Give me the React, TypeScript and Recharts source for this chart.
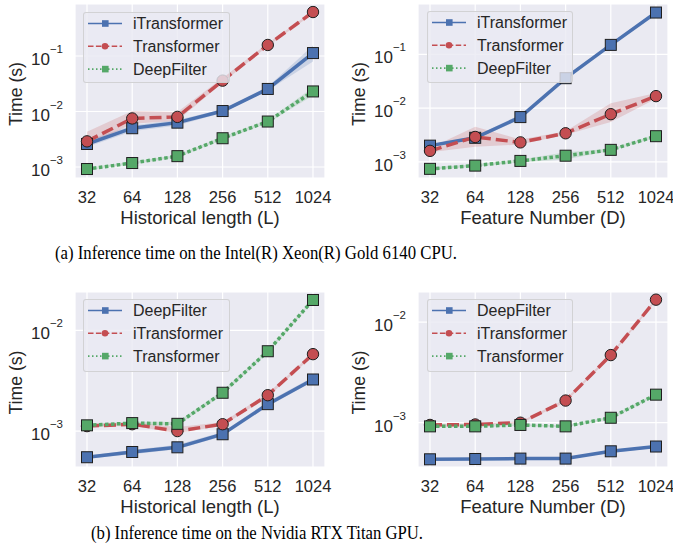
import React from 'react';
import { ComposedChart, Line, Area, XAxis, YAxis, CartesianGrid, Legend } from 'recharts';

// ---------- data ----------
const lengths = [32, 64, 128, 256, 512, 1024];
const xTicks = [32, 64, 128, 256, 512, 1024];
const yTicksTop = [1e-3, 1e-2, 1e-1];
const yTicksBottom = [1e-3, 1e-2];

// (a) CPU — historical length
const cpuLenITransformer = [2.6e-3, 5.0e-3, 6.3e-3, 0.0102, 0.0255, 0.113];
const cpuLenITransformerLo = [2.3e-3, 4.4e-3, 5.6e-3, 0.0095, 0.024, 0.08];
const cpuLenITransformerHi = [3.0e-3, 5.6e-3, 7.0e-3, 0.011, 0.028, 0.155];
const cpuLenTransformer = [2.9e-3, 7.5e-3, 8.0e-3, 0.036, 0.158, 0.62];
const cpuLenTransformerLo = [2.4e-3, 6.0e-3, 6.8e-3, 0.033, 0.15, 0.58];
const cpuLenTransformerHi = [4.3e-3, 0.0102, 0.0098, 0.04, 0.17, 0.65];
const cpuLenDeepFilter = [9.2e-4, 1.18e-3, 1.57e-3, 3.3e-3, 6.6e-3, 0.023];
const cpuLenDeepFilterLo = [8.8e-4, 1.12e-3, 1.5e-3, 3.1e-3, 6.2e-3, 0.0195];
const cpuLenDeepFilterHi = [9.7e-4, 1.25e-3, 1.65e-3, 3.5e-3, 7.0e-3, 0.027];

// (a) CPU — feature number
const cpuFeatITransformer = [2.0e-3, 2.8e-3, 6.8e-3, 0.036, 0.15, 0.6];
const cpuFeatITransformerLo = [1.9e-3, 2.6e-3, 6.2e-3, 0.034, 0.145, 0.58];
const cpuFeatITransformerHi = [2.1e-3, 3.0e-3, 7.6e-3, 0.039, 0.16, 0.63];
const cpuFeatTransformer = [1.6e-3, 2.9e-3, 2.3e-3, 3.4e-3, 7.7e-3, 0.0167];
const cpuFeatTransformerLo = [1.5e-3, 1.9e-3, 2.1e-3, 3.2e-3, 5.5e-3, 0.015];
const cpuFeatTransformerHi = [1.8e-3, 4.5e-3, 2.6e-3, 3.7e-3, 0.0123, 0.019];
const cpuFeatDeepFilter = [7.4e-4, 8.5e-4, 1.04e-3, 1.3e-3, 1.67e-3, 3.0e-3];
const cpuFeatDeepFilterLo = [7.1e-4, 8.1e-4, 9.8e-4, 1.1e-3, 1.6e-3, 2.85e-3];
const cpuFeatDeepFilterHi = [7.8e-4, 9.0e-4, 1.1e-3, 1.5e-3, 1.75e-3, 3.2e-3];

// (b) GPU — historical length
const gpuLenDeepFilter = [5.5e-4, 6.2e-4, 6.9e-4, 9.3e-4, 1.85e-3, 3.25e-3];
const gpuLenDeepFilterLo = [5.3e-4, 5.9e-4, 6.6e-4, 8.9e-4, 1.75e-3, 3.1e-3];
const gpuLenDeepFilterHi = [5.7e-4, 6.5e-4, 7.3e-4, 9.8e-4, 1.95e-3, 3.45e-3];
const gpuLenITransformer = [1.12e-3, 1.17e-3, 1.0e-3, 1.17e-3, 2.27e-3, 5.8e-3];
const gpuLenITransformerLo = [1.09e-3, 1.13e-3, 0.95e-3, 1.13e-3, 2.18e-3, 5.6e-3];
const gpuLenITransformerHi = [1.16e-3, 1.22e-3, 1.1e-3, 1.22e-3, 2.38e-3, 6.0e-3];
const gpuLenTransformer = [1.14e-3, 1.2e-3, 1.18e-3, 2.4e-3, 6.2e-3, 0.02];
const gpuLenTransformerLo = [1.1e-3, 1.16e-3, 1.14e-3, 2.3e-3, 6.0e-3, 0.0195];
const gpuLenTransformerHi = [1.18e-3, 1.24e-3, 1.24e-3, 2.5e-3, 6.4e-3, 0.0205];

// (b) GPU — feature number
const gpuFeatDeepFilter = [4.33e-4, 4.36e-4, 4.4e-4, 4.4e-4, 5.2e-4, 5.8e-4];
const gpuFeatDeepFilterLo = [4.25e-4, 4.3e-4, 4.35e-4, 4.35e-4, 5.0e-4, 5.65e-4];
const gpuFeatDeepFilterHi = [4.4e-4, 4.45e-4, 4.5e-4, 4.5e-4, 5.3e-4, 5.95e-4];
const gpuFeatITransformer = [9.5e-4, 9.6e-4, 1.0e-3, 1.66e-3, 4.7e-3, 0.0167];
const gpuFeatITransformerLo = [9.3e-4, 9.4e-4, 9.8e-4, 1.6e-3, 4.55e-3, 0.0162];
const gpuFeatITransformerHi = [9.7e-4, 9.8e-4, 1.03e-3, 1.72e-3, 4.85e-3, 0.0172];
const gpuFeatTransformer = [9.2e-4, 9.2e-4, 9.5e-4, 9.2e-4, 1.12e-3, 1.9e-3];
const gpuFeatTransformerLo = [9.0e-4, 9.0e-4, 9.3e-4, 9.0e-4, 1.09e-3, 1.85e-3];
const gpuFeatTransformerHi = [9.4e-4, 9.4e-4, 9.7e-4, 9.4e-4, 1.15e-3, 1.95e-3];

// ---------- styles ----------
const BLUE = '#4C72B0';
const RED = '#C44E52';
const GREEN = '#55A868';
const BG = '#EAEAF2';
const TEXT = '#262626';
const SANS = '"Liberation Sans", Arial, Helvetica, sans-serif';
const SERIF = '"Liberation Serif", "Times New Roman", serif';

type Marker = 'square' | 'circle';
type Series = {
  key: string;
  name: string;
  color: string;
  dash?: string;
  legendDash?: string;
  marker: Marker;
  values: number[];
  lo: number[];
  hi: number[];
};

const SOLID = { dash: undefined, legendDash: undefined };
const DASHED = { dash: '12 5', legendDash: '5.5 2.4' };
const DOTTED = { dash: '3.5 2.5', legendDash: '1.5 2.5' };

const buildRows = (xs: number[], series: Series[]) =>
  xs.map((x, i) => {
    const r: any = { x };
    series.forEach((s) => {
      r[s.key] = s.values[i];
      r[s.key + 'Band'] = [s.lo[i], s.hi[i]];
    });
    return r;
  });

const makeDot = (color: string, marker: Marker) => (props: any) => {
  const { cx, cy, index } = props;
  if (cx == null || cy == null) return <g key={'d' + index} />;
  if (marker === 'circle')
    return <circle key={'d' + index} cx={cx} cy={cy} r={5.7} fill={color} stroke="#1f1f1f" strokeWidth={1} />;
  return <rect key={'d' + index} x={cx - 5.5} y={cy - 5.5} width={11} height={11} fill={color} stroke="#1f1f1f" strokeWidth={1} />;
};

const YTick = (props: any) => {
  const { x, y, payload } = props;
  const exp = Math.round(Math.log10(payload.value));
  return (
    <text x={x - 12} y={y + 9} textAnchor="end" fill={TEXT} fontSize={17} fontFamily={SANS}>
      10
      <tspan dy={-12} fontSize={11.5}>{'\u2212' + Math.abs(exp)}</tspan>
    </text>
  );
};

const XTick = (props: any) => {
  const { x, y, payload } = props;
  return (
    <text x={x} y={y + 25} textAnchor="middle" fill={TEXT} fontSize={16.5} fontFamily={SANS}>
      {payload.value}
    </text>
  );
};

const LegendBox = ({ series, w, h }: { series: Series[]; w: number; h: number }) => (
  <div
    style={{
      width: w,
      height: h,
      boxSizing: 'border-box',
      background: 'rgba(234,234,242,0.8)',
      border: '1px solid rgba(204,204,204,0.8)',
      borderRadius: 3,
    }}
  >
    <svg width={w - 2} height={h - 2} style={{ display: 'block' }}>
      {series.map((s, i) => {
        const cy = 10.5 + i * 22.8;
        return (
          <g key={s.key}>
            <line x1={4} x2={38} y1={cy} y2={cy} stroke={s.color} strokeWidth={1.6} strokeDasharray={s.legendDash} />
            {s.marker === 'circle' ? (
              <circle cx={21} cy={cy} r={3.3} fill={s.color} />
            ) : (
              <rect x={18} y={cy - 3.3} width={6.6} height={6.6} fill={s.color} />
            )}
            <text x={49} y={cy + 5.8} fill={TEXT} fontSize={16} fontFamily={SANS}>
              {s.name}
            </text>
          </g>
        );
      })}
    </svg>
  </div>
);

type PanelProps = {
  left: number;
  top: number;
  width: number;
  height: number;
  marginTop: number;
  marginRight: number;
  yAxisWidth: number;
  xAxisHeight: number;
  yDomain: [number, number];
  yTicks: number[];
  legend: { x: number; y: number; w: number; h: number };
  series: Series[];
};

const X_DOMAIN: [number, number] = [26.62, 1231];

const Panel = (p: PanelProps) => {
  const data = buildRows(lengths, p.series);
  return (
    <div style={{ position: 'absolute', left: p.left, top: p.top, width: p.width, height: p.height }}>
      <ComposedChart
        width={p.width}
        height={p.height}
        data={data}
        margin={{ top: p.marginTop, right: p.marginRight, bottom: 0, left: 0 }}
      >
        <CartesianGrid fill={BG} stroke="#FFFFFF" strokeWidth={1.2} />
        <XAxis
          dataKey="x"
          type="number"
          scale="log"
          domain={X_DOMAIN}
          allowDataOverflow
          ticks={xTicks}
          height={p.xAxisHeight}
          axisLine={false}
          tickLine={false}
          tickSize={0}
          tickMargin={0}
          interval={0}
          tick={<XTick />}
        />
        <YAxis
          type="number"
          scale="log"
          domain={p.yDomain}
          allowDataOverflow
          ticks={p.yTicks}
          width={p.yAxisWidth}
          axisLine={false}
          tickLine={false}
          tickSize={0}
          tickMargin={0}
          interval={0}
          tick={<YTick />}
        />
        {p.series.map((s) => (
          <Area
            key={s.key + 'Band'}
            dataKey={s.key + 'Band'}
            type="linear"
            stroke="none"
            fill={s.color}
            fillOpacity={0.2}
            isAnimationActive={false}
            dot={false}
            activeDot={false}
            legendType="none"
          />
        ))}
        {p.series.map((s) => (
          <Line
            key={s.key}
            dataKey={s.key}
            name={s.name}
            type="linear"
            stroke={s.color}
            strokeWidth={3.5}
            strokeDasharray={s.dash}
            dot={makeDot(s.color, s.marker)}
            activeDot={false}
            isAnimationActive={false}
          />
        ))}
        <Legend
          layout="horizontal"
          verticalAlign="middle"
          align="center"
          wrapperStyle={{ position: 'absolute', left: p.legend.x, top: p.legend.y, width: p.legend.w, height: p.legend.h, margin: 0 }}
          content={() => <LegendBox series={p.series} w={p.legend.w} h={p.legend.h} />}
        />
      </ComposedChart>
    </div>
  );
};

const seriesA: Series[] = [
  { key: 'it', name: 'iTransformer', color: BLUE, ...SOLID, marker: 'square', values: cpuLenITransformer, lo: cpuLenITransformerLo, hi: cpuLenITransformerHi },
  { key: 'tr', name: 'Transformer', color: RED, ...DASHED, marker: 'circle', values: cpuLenTransformer, lo: cpuLenTransformerLo, hi: cpuLenTransformerHi },
  { key: 'df', name: 'DeepFilter', color: GREEN, ...DOTTED, marker: 'square', values: cpuLenDeepFilter, lo: cpuLenDeepFilterLo, hi: cpuLenDeepFilterHi },
];
const seriesB: Series[] = [
  { key: 'it', name: 'iTransformer', color: BLUE, ...SOLID, marker: 'square', values: cpuFeatITransformer, lo: cpuFeatITransformerLo, hi: cpuFeatITransformerHi },
  { key: 'tr', name: 'Transformer', color: RED, ...DASHED, marker: 'circle', values: cpuFeatTransformer, lo: cpuFeatTransformerLo, hi: cpuFeatTransformerHi },
  { key: 'df', name: 'DeepFilter', color: GREEN, ...DOTTED, marker: 'square', values: cpuFeatDeepFilter, lo: cpuFeatDeepFilterLo, hi: cpuFeatDeepFilterHi },
];
const seriesC: Series[] = [
  { key: 'df', name: 'DeepFilter', color: BLUE, ...SOLID, marker: 'square', values: gpuLenDeepFilter, lo: gpuLenDeepFilterLo, hi: gpuLenDeepFilterHi },
  { key: 'it', name: 'iTransformer', color: RED, ...DASHED, marker: 'circle', values: gpuLenITransformer, lo: gpuLenITransformerLo, hi: gpuLenITransformerHi },
  { key: 'tr', name: 'Transformer', color: GREEN, ...DOTTED, marker: 'square', values: gpuLenTransformer, lo: gpuLenTransformerLo, hi: gpuLenTransformerHi },
];
const seriesD: Series[] = [
  { key: 'df', name: 'DeepFilter', color: BLUE, ...SOLID, marker: 'square', values: gpuFeatDeepFilter, lo: gpuFeatDeepFilterLo, hi: gpuFeatDeepFilterHi },
  { key: 'it', name: 'iTransformer', color: RED, ...DASHED, marker: 'circle', values: gpuFeatITransformer, lo: gpuFeatITransformerLo, hi: gpuFeatITransformerHi },
  { key: 'tr', name: 'Transformer', color: GREEN, ...DOTTED, marker: 'square', values: gpuFeatTransformer, lo: gpuFeatTransformerLo, hi: gpuFeatTransformerHi },
];

const AxisTitles = ({ plotLeft, plotRight, plotTop, plotBottom, xLabel }: any) => {
  const cx = plotLeft - 60;
  const cy = (plotTop + plotBottom) / 2 + 3;
  return (
    <g fill={TEXT} fontFamily={SANS} fontWeight="normal">
      <text x={(plotLeft + plotRight) / 2} y={plotBottom + 46} textAnchor="middle" fontSize={18.5}>
        {xLabel}
      </text>
      <g transform={`translate(${cx}, ${cy}) rotate(-90)`}>
        <text
          x={0}
          y={6.5}
          textAnchor="middle"
          fontSize={18}
          textLength={64}
          lengthAdjust="spacingAndGlyphs"
        >
          Time (s)
        </text>
      </g>
    </g>
  );
};

export default function App() {
  return (
    <div style={{ position: 'absolute', left: 0, top: 0, width: 673, height: 558, background: '#fff', overflow: 'hidden' }}>
      <svg width={673} height={558} style={{ position: 'absolute', left: 0, top: 0 }}>
        <AxisTitles plotLeft={75} plotRight={325} plotTop={4} plotBottom={178} xLabel="Historical length (L)" />
        <AxisTitles plotLeft={418} plotRight={668} plotTop={4} plotBottom={178} xLabel="Feature Number (D)" />
        <AxisTitles plotLeft={75} plotRight={325} plotTop={292} plotBottom={467} xLabel="Historical length (L)" />
        <AxisTitles plotLeft={418} plotRight={668} plotTop={292} plotBottom={467} xLabel="Feature Number (D)" />
        <text x={256} y={259} textAnchor="middle" fill="#000" fontSize={18} fontFamily={SERIF} textLength={402} lengthAdjust="spacingAndGlyphs">
          (a) Inference time on the Intel(R) Xeon(R) Gold 6140 CPU.
        </text>
        <text x={257} y={539} textAnchor="middle" fill="#000" fontSize={18} fontFamily={SERIF} textLength={332} lengthAdjust="spacingAndGlyphs">
          (b) Inference time on the Nvidia RTX Titan GPU.
        </text>
      </svg>
      <Panel
        left={0} top={0} width={336} height={240}
        marginTop={4} marginRight={11} yAxisWidth={75} xAxisHeight={62}
        yDomain={[6.34e-4, 0.865]} yTicks={yTicksTop}
        legend={{ x: 83, y: 12, w: 147, h: 71 }}
        series={seriesA}
      />
      <Panel
        left={335} top={0} width={338} height={240}
        marginTop={4} marginRight={5} yAxisWidth={83} xAxisHeight={62}
        yDomain={[5.0e-4, 0.865]} yTicks={yTicksTop}
        legend={{ x: 92, y: 11, w: 146, h: 72 }}
        series={seriesB}
      />
      <Panel
        left={0} top={280} width={336} height={240}
        marginTop={12} marginRight={11} yAxisWidth={75} xAxisHeight={53}
        yDomain={[4.4e-4, 0.024]} yTicks={yTicksBottom}
        legend={{ x: 83, y: 19, w: 147, h: 73 }}
        series={seriesC}
      />
      <Panel
        left={335} top={280} width={338} height={240}
        marginTop={12} marginRight={5} yAxisWidth={83} xAxisHeight={53}
        yDomain={[3.63e-4, 0.0199]} yTicks={yTicksBottom}
        legend={{ x: 92, y: 19, w: 146, h: 73 }}
        series={seriesD}
      />
    </div>
  );
}
